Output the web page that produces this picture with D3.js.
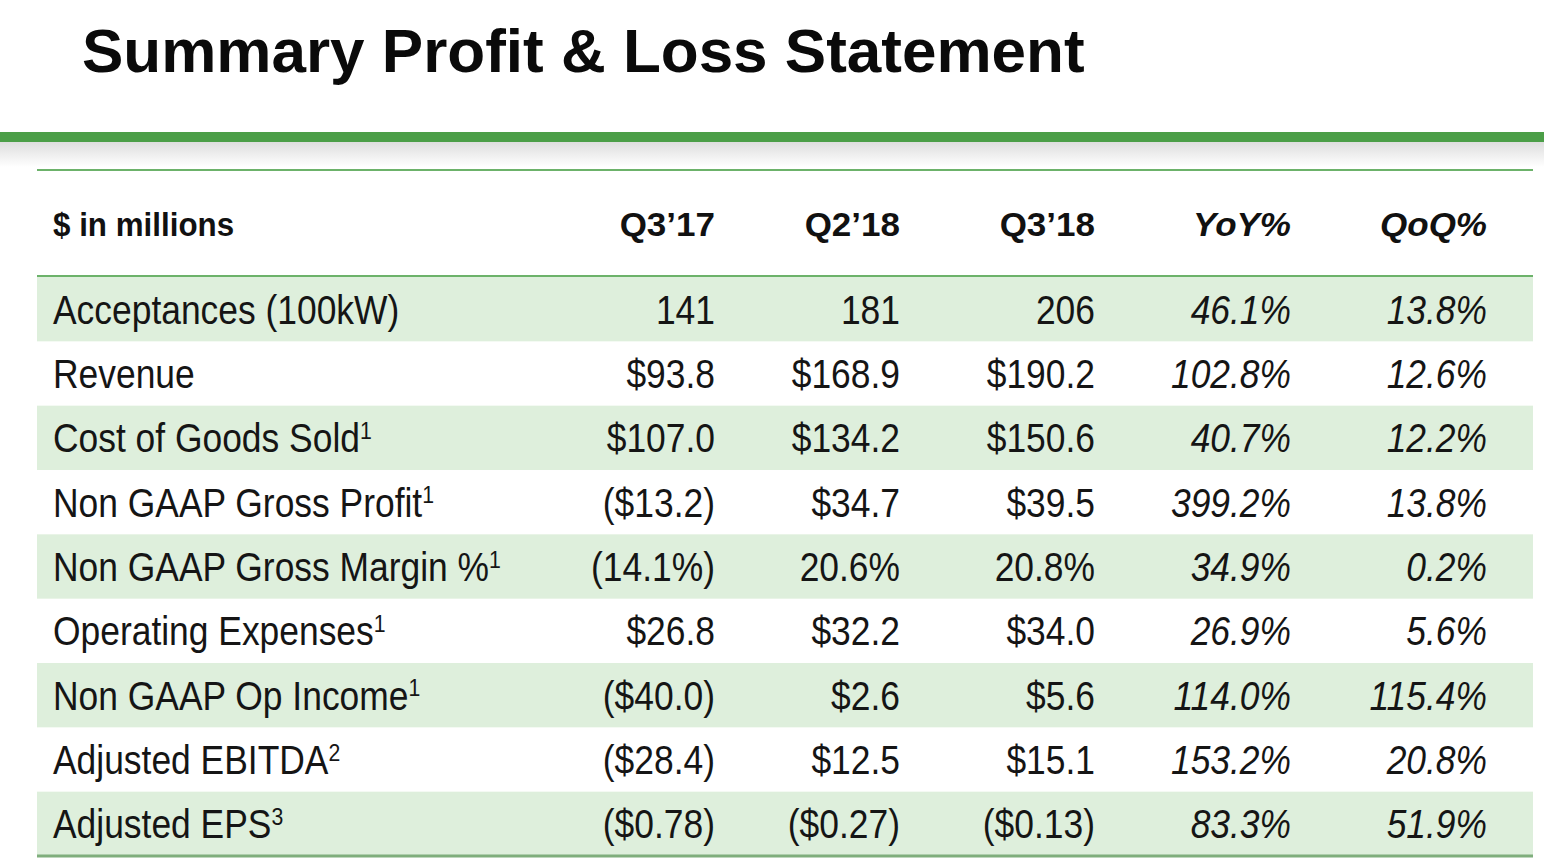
<!DOCTYPE html>
<html><head><meta charset="utf-8">
<script src="https://cdn.jsdelivr.net/npm/d3@7"></script>
<style>html,body{margin:0;padding:0;background:#fff;overflow:hidden}</style>
</head><body>
<svg id="c" width="1544" height="864"></svg>
<script>
const title = "Summary Profit & Loss Statement";
const unitLabel = "$ in millions";
const columns = ["Q3’17", "Q2’18", "Q3’18", "YoY%", "QoQ%"];
const italicCols = ["YoY%", "QoQ%"];
const rowLabels = ["Acceptances (100kW)", "Revenue", "Cost of Goods Sold", "Non GAAP Gross Profit",
  "Non GAAP Gross Margin %", "Operating Expenses", "Non GAAP Op Income", "Adjusted EBITDA", "Adjusted EPS"];
const footnotes = ["", "", "1", "1", "1", "1", "1", "2", "3"];
const q317 = ["141", "$93.8", "$107.0", "($13.2)", "(14.1%)", "$26.8", "($40.0)", "($28.4)", "($0.78)"];
const q218 = ["181", "$168.9", "$134.2", "$34.7", "20.6%", "$32.2", "$2.6", "$12.5", "($0.27)"];
const q318 = ["206", "$190.2", "$150.6", "$39.5", "20.8%", "$34.0", "$5.6", "$15.1", "($0.13)"];
const yoy = ["46.1%", "102.8%", "40.7%", "399.2%", "34.9%", "26.9%", "114.0%", "153.2%", "83.3%"];
const qoq = ["13.8%", "12.6%", "12.2%", "13.8%", "0.2%", "5.6%", "115.4%", "20.8%", "51.9%"];

const svg = d3.select("#c");
const FONT = "'Liberation Sans', Arial, Helvetica, sans-serif";
const tableL = 37, tableR = 1533, labelX = 53;
const headTop = 170, headBottom = 276, bodyBottom = 856;

const colX = d3.scaleOrdinal().domain(columns).range([715, 900, 1095, 1291, 1487]);
const rowY = d3.scaleBand().domain(d3.range(rowLabels.length)).range([headBottom + 1, bodyBottom]).paddingInner(0);

// title
svg.append("text").attr("x", 82).attr("y", 72).attr("font-family", FONT).attr("font-weight", "bold")
  .attr("font-size", 62).attr("fill", "#0a0a0a").text(title);

// shadow gradient
const defs = svg.append("defs");
const g = defs.append("linearGradient").attr("id", "sh").attr("x1", 0).attr("x2", 0).attr("y1", 0).attr("y2", 1);
g.append("stop").attr("offset", 0).attr("stop-color", "#dcdcdc");
g.append("stop").attr("offset", 1).attr("stop-color", "#ffffff");
svg.append("rect").attr("x", 0).attr("y", 141).attr("width", 1544).attr("height", 26).attr("fill", "url(#sh)");
svg.append("rect").attr("x", 0).attr("y", 132).attr("width", 1544).attr("height", 10).attr("fill", "#4b9e47");

// row bands
const rows = rowLabels.map((l, i) => ({label: l, fn: footnotes[i], vals: [q317[i], q218[i], q318[i], yoy[i], qoq[i]], i}));
svg.selectAll("rect.band").data(rows.filter(d => d.i % 2 === 0)).join("rect").attr("class", "band")
  .attr("x", tableL).attr("width", tableR - tableL)
  .attr("y", d => rowY(d.i)).attr("height", rowY.bandwidth()).attr("fill", "#deefdc");

// lines
svg.append("line").attr("x1", tableL).attr("x2", tableR).attr("y1", headTop).attr("y2", headTop)
  .attr("stroke", "#6cb26a").attr("stroke-width", 2);
svg.append("line").attr("x1", tableL).attr("x2", tableR).attr("y1", headBottom).attr("y2", headBottom)
  .attr("stroke", "#6cb26a").attr("stroke-width", 2);
svg.append("line").attr("x1", tableL).attr("x2", tableR).attr("y1", bodyBottom).attr("y2", bodyBottom)
  .attr("stroke", "#7fae7c").attr("stroke-width", 3);

// header
const headY = 236;
function sq(sel, x, y, s) { return sel.attr("transform", `translate(${x},${y}) scale(${s},1)`); }
sq(svg.append("text"), labelX, headY, 0.95).attr("font-family", FONT).attr("font-weight", "bold").attr("font-size", 33)
  .attr("fill", "#111").text(unitLabel);
columns.forEach(c => {
  sq(svg.append("text"), colX(c), headY, 1.03).attr("text-anchor", "end").attr("font-family", FONT)
    .attr("font-weight", "bold").attr("font-style", italicCols.includes(c) ? "italic" : "normal")
    .attr("font-size", 34).attr("fill", "#111").text(c);
});

// body
const BS = 40, BX = 0.885;
rows.forEach(r => {
  const y = rowY(r.i) + rowY.bandwidth() / 2 + BS * 0.36;
  const t = sq(svg.append("text"), labelX, y, BX).attr("font-family", FONT).attr("font-size", BS).attr("fill", "#151515");
  t.append("tspan").text(r.label);
  if (r.fn) t.append("tspan").attr("font-size", BS * 0.6).attr("dy", -BS * 0.33).text(r.fn);
  columns.forEach((c, j) => {
    sq(svg.append("text"), colX(c), y, BX).attr("text-anchor", "end").attr("font-family", FONT)
      .attr("font-style", italicCols.includes(c) ? "italic" : "normal")
      .attr("font-size", BS).attr("fill", "#151515").text(r.vals[j]);
  });
});
</script>
</body></html>
